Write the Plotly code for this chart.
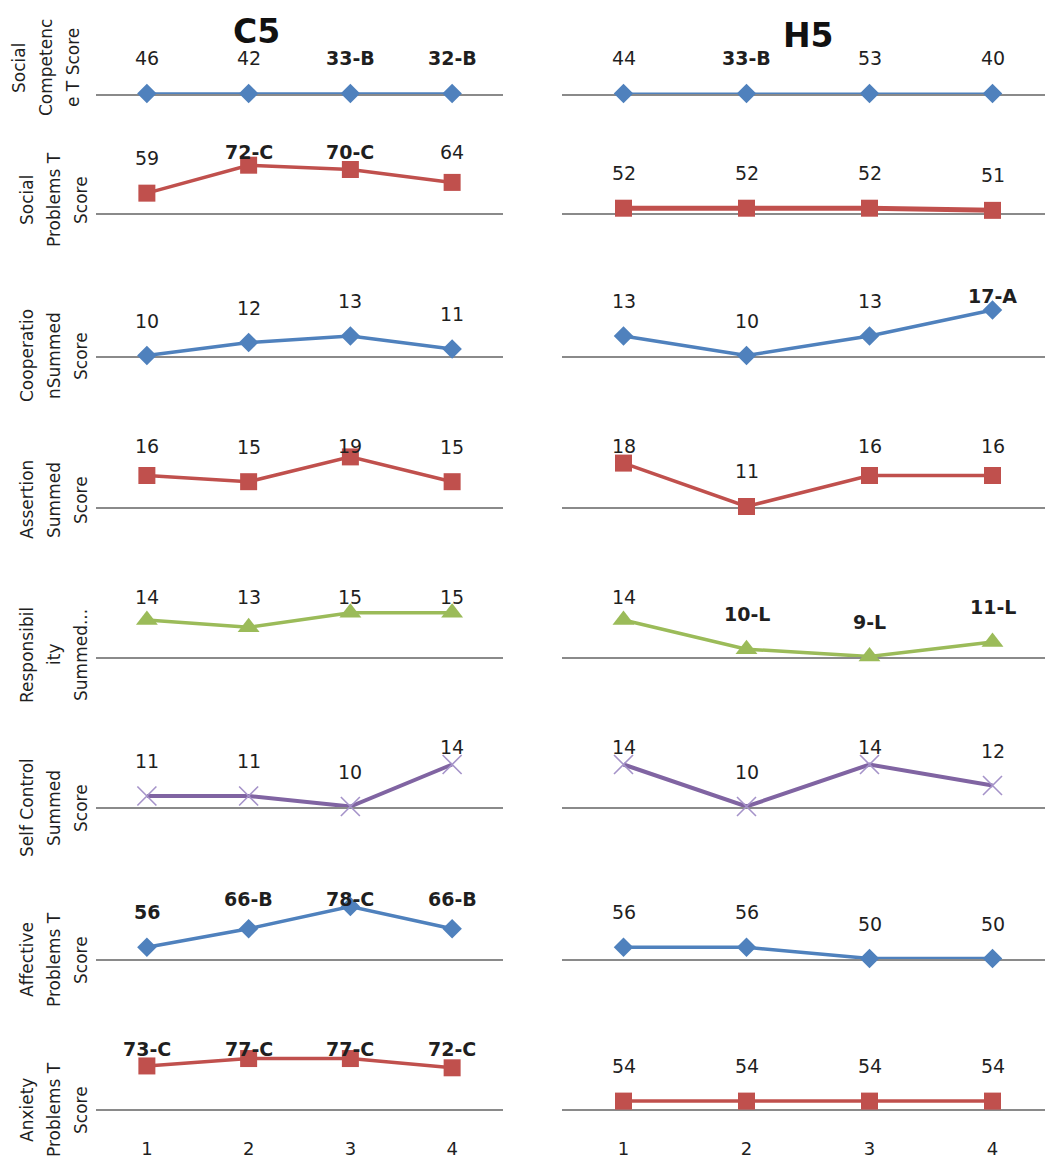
import numpy as np
import plotly.graph_objects as go

# ---------------- data ----------------
x_categories = [1, 2, 3, 4]
column_titles = ["C5", "H5"]
row_titles = [
    ["Social", "Competenc", "e T Score"],
    ["Social", "Problems T", "Score"],
    ["Cooperatio", "nSummed", "Score"],
    ["Assertion", "Summed", "Score"],
    ["Responsibil", "ity", "Summed..."],
    ["Self Control", "Summed", "Score"],
    ["Affective", "Problems T", "Score"],
    ["Anxiety", "Problems T", "Score"],
]

# C5 values and grade letters
c5_social_competence = [46, 42, 33, 32]
c5_social_competence_grade = ["", "", "B", "B"]
c5_social_problems = [59, 72, 70, 64]
c5_social_problems_grade = ["", "C", "C", ""]
c5_cooperation = [10, 12, 13, 11]
c5_cooperation_grade = ["", "", "", ""]
c5_assertion = [16, 15, 19, 15]
c5_assertion_grade = ["", "", "", ""]
c5_responsibility = [14, 13, 15, 15]
c5_responsibility_grade = ["", "", "", ""]
c5_self_control = [11, 11, 10, 14]
c5_self_control_grade = ["", "", "", ""]
c5_affective = [56, 66, 78, 66]
c5_affective_grade = ["", "B", "C", "B"]
c5_anxiety = [73, 77, 77, 72]
c5_anxiety_grade = ["C", "C", "C", "C"]

# H5 values and grade letters
h5_social_competence = [44, 33, 53, 40]
h5_social_competence_grade = ["", "B", "", ""]
h5_social_problems = [52, 52, 52, 51]
h5_social_problems_grade = ["", "", "", ""]
h5_cooperation = [13, 10, 13, 17]
h5_cooperation_grade = ["", "", "", "A"]
h5_assertion = [18, 11, 16, 16]
h5_assertion_grade = ["", "", "", ""]
h5_responsibility = [14, 10, 9, 11]
h5_responsibility_grade = ["", "L", "L", "L"]
h5_self_control = [14, 10, 14, 12]
h5_self_control_grade = ["", "", "", ""]
h5_affective = [56, 56, 50, 50]
h5_affective_grade = ["", "", "", ""]
h5_anxiety = [54, 54, 54, 54]
h5_anxiety_grade = ["", "", "", ""]

c5_rows = [
    (c5_social_competence, c5_social_competence_grade),
    (c5_social_problems, c5_social_problems_grade),
    (c5_cooperation, c5_cooperation_grade),
    (c5_assertion, c5_assertion_grade),
    (c5_responsibility, c5_responsibility_grade),
    (c5_self_control, c5_self_control_grade),
    (c5_affective, c5_affective_grade),
    (c5_anxiety, c5_anxiety_grade),
]
h5_rows = [
    (h5_social_competence, h5_social_competence_grade),
    (h5_social_problems, h5_social_problems_grade),
    (h5_cooperation, h5_cooperation_grade),
    (h5_assertion, h5_assertion_grade),
    (h5_responsibility, h5_responsibility_grade),
    (h5_self_control, h5_self_control_grade),
    (h5_affective, h5_affective_grade),
    (h5_anxiety, h5_anxiety_grade),
]
# extra bold labels (column, row, point)
bold_extra = {(0, 6, 0)}

# ---------------- styling / layout ----------------
W, H = 1045, 1163
FONT = "DejaVu Sans"
TXT = "#1F1F1F"
BLUE, RED, GREEN, PURPLE = "#4F81BD", "#C0504D", "#9BBB59", "#8064A2"
row_colors = [BLUE, RED, BLUE, RED, GREEN, PURPLE, BLUE, RED]
row_symbols = ["diamond", "square", "diamond", "square", "triangle-up",
               "x-thin", "diamond", "square"]
row_msize = [15, 17, 15, 17, 19, 19, 15, 17]
row_lw = [2.5, 3.5, 3.5, 3.5, 3.5, 4, 3.5, 3.5]
# axis set-up per row: baseline pixel, axis minimum, pixels per unit
row_baseline = [94, 213, 356, 507, 657, 807, 959, 1109]
row_axis_min = [55, 50, 10, 11, 9, 10, 50, 50]
row_ppu = [2.0, 2.15, 6.5, 6.2, 7.3, 10.5, 1.86, 1.85]
row_title_center = [68, 200, 356, 500, 655, 808, 960, 1110]
row_title_x = [[19, 46, 73]] + [[27, 54, 81]] * 7
PLOT_H = 70      # plot area height (px) above baseline
LABEL_OFF = 35   # label centre above marker (px)
LABEL_CAP = 60   # max label height above baseline (px)

# x domains (px) and x ranges so categories sit at centres
col_x = [(96, 503), (562, 1045)]
col_step = [(503 - 96) / 4.0, 123.0]


def px(p):
    return p / W


def py(p):
    return 1 - p / H


fig = go.Figure()
annotations = []
layout_axes = {}

n = 0
for c, rows in enumerate([c5_rows, h5_rows]):
    for r, (vals, grades) in enumerate(rows):
        n += 1
        xa = "x" if n == 1 else f"x{n}"
        ya = "y" if n == 1 else f"y{n}"
        vals = np.array(vals, dtype=float)
        ymin = row_axis_min[r]
        ppu = row_ppu[r]
        # values under the axis minimum are pinned to the axis line
        yplot = np.maximum(vals, ymin)
        color = row_colors[r]
        sym = row_symbols[r]
        if sym == "x-thin":
            marker = dict(symbol=sym, size=row_msize[r],
                          line=dict(color="#A593C9", width=1.6), color="#A593C9")
        else:
            marker = dict(symbol=sym, size=row_msize[r], color=color,
                          line=dict(width=0))
        lw = row_lw[r]
        if r == 0 and c == 1:
            lw = 2
        if r == 1 and c == 1:
            lw = 5
        fig.add_trace(go.Scatter(
            x=x_categories, y=yplot, mode="lines+markers",
            line=dict(color=color, width=lw), marker=marker,
            xaxis=xa, yaxis=ya, cliponaxis=False, hoverinfo="skip"))

        x0, x1 = col_x[c]
        step = col_step[c]
        xr = [0.5, 0.5 + (x1 - x0) / step]
        b = row_baseline[r]
        eps = 0.5 / ppu
        yr = [ymin - eps, ymin - eps + PLOT_H / ppu]
        layout_axes["xaxis" if n == 1 else f"xaxis{n}"] = dict(
            domain=[px(x0), px(x1)], range=xr, anchor=ya,
            showline=True, linecolor="#8A8A8A", linewidth=2,
            layer="below traces",
            showgrid=False, zeroline=False, ticks="",
            tickvals=x_categories,
            showticklabels=(r == 7), ticklabelstandoff=22,
            tickfont=dict(family=FONT, size=18, color=TXT),
            fixedrange=True)
        layout_axes["yaxis" if n == 1 else f"yaxis{n}"] = dict(
            domain=[py(b), py(b - PLOT_H)], range=yr, anchor=xa,
            visible=False, showgrid=False, zeroline=False, fixedrange=True)

        for i, (v, yp, g) in enumerate(zip(vals, yplot, grades)):
            txt = f"{int(v)}" + (f"-{g}" if g else "")
            if g or (c, r, i) in bold_extra:
                txt = f"<b>{txt}</b>"
            h = (yp - ymin) * ppu
            shift = min(LABEL_OFF, LABEL_CAP - h)
            annotations.append(dict(
                x=x_categories[i], y=yp, xref=xa, yref=ya, text=txt,
                showarrow=False, yshift=shift, xanchor="center", yanchor="middle",
                font=dict(family=FONT, size=19, color=TXT)))

# row titles on the left (one rotated annotation per wrapped line)
for r, lines in enumerate(row_titles):
    for k, line in enumerate(lines):
        annotations.append(dict(
            x=px(row_title_x[r][k]), y=py(row_title_center[r]),
            xref="paper", yref="paper",
            text=line, textangle=-90, showarrow=False,
            xanchor="center", yanchor="middle",
            font=dict(family=FONT, size=17, color=TXT)))

# column titles
annotations.append(dict(x=px(256), y=py(31), xref="paper", yref="paper",
                        text="<b>C5</b>", showarrow=False,
                        xanchor="center", yanchor="middle",
                        font=dict(family=FONT, size=33, color="#111111")))
annotations.append(dict(x=px(808), y=py(35), xref="paper", yref="paper",
                        text="<b>H5</b>", showarrow=False,
                        xanchor="center", yanchor="middle",
                        font=dict(family=FONT, size=33, color="#111111")))

fig.update_layout(
    width=W, height=H, margin=dict(l=0, r=0, t=0, b=0),
    paper_bgcolor="white", plot_bgcolor="white",
    showlegend=False, annotations=annotations,
    font=dict(family=FONT), **layout_axes)

fig.write_html("out.html", config={"displayModeBar": False},
               post_script="document.body.style.margin='0';")
